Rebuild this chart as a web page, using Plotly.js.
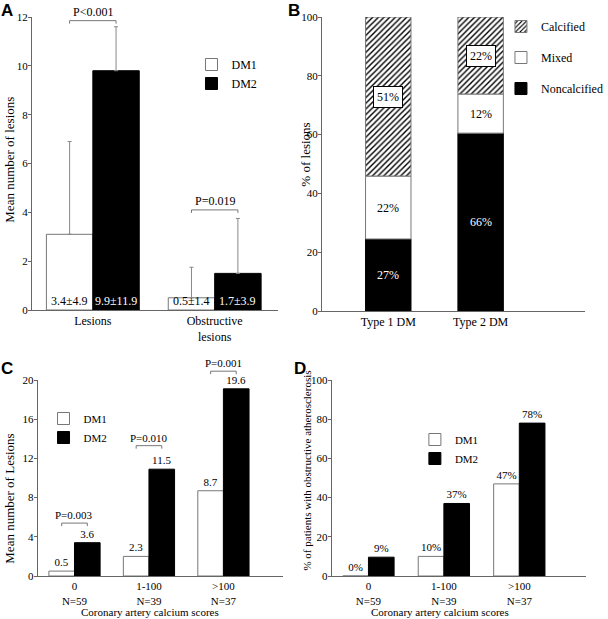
<!DOCTYPE html>
<html>
<head>
<meta charset="utf-8">
<script src="https://cdn.plot.ly/plotly-3.0.1.min.js"></script>
<style>
  html, body { margin: 0; padding: 0; background: #fff; }
  #chart { width: 608px; height: 619px; }
</style>
</head>
<body>
<div id="chart"></div>
<script>
// ---- Panel A: mean number of lesions ----
const aCats = ['Lesions', 'Obstructive<br>lesions'];
const aDM1 = [3.1, 0.5];
const aDM2 = [9.8, 1.5];
const aDM1Err = [3.8, 1.25];
const aDM2Err = [1.8, 2.25];
const aDM1Text = ['3.4±4.9', '0.5±1.4'];
const aDM2Text = ['9.9±11.9', '1.7±3.9'];
const aPValues = ['P<0.001', 'P=0.019'];

// ---- Panel B: lesion composition ----
const bCats = ['Type 1 DM', 'Type 2 DM'];
const bNoncalcified = [24.5, 60.5];
const bMixed = [21.4, 13.3];
const bCalcified = [54.1, 26.2];
const bNoncalcText = ['27%', '66%'];
const bMixedText = ['22%', '12%'];
const bCalcText = ['51%', '22%'];

// ---- Panels C & D: by coronary calcium score ----
const calcCats = ['0', '1-100', '>100'];
const calcN = ['N=59', 'N=39', 'N=37'];
const cDM1 = [0.5, 2.0, 8.7];
const cDM2 = [3.4, 10.9, 19.1];
const cDM1Text = ['0.5', '2.3', '8.7'];
const cDM2Text = ['3.6', '11.5', '19.6'];
const cPValues = ['P=0.003', 'P=0.010', 'P=0.001'];

const dDM1 = [0, 10, 47];
const dDM2 = [9.6, 37, 78];
const dDM1Text = ['0%', '10%', '47%'];
const dDM2Text = ['9%', '37%', '78%'];

// ---- styling / layout constants ----
const W = 608, H = 619;
const SERIF = '"Liberation Serif", "Times New Roman", serif';
const SANS = '"Liberation Sans", Arial, sans-serif';
const AXIS = '#666';
const font = (size, color) => ({family: SERIF, size: size, color: color || '#000'});
const idx = arr => arr.map((_, i) => i);
const whiteMarker = {color: '#fff', line: {color: '#777', width: 1}};
const blackMarker = {color: '#000', line: {color: '#000', width: 1}};

const wA = 0.381, wB = 0.492, wC = 0.344, wD = 0.34;
const bracketA = [11.85, 4.1];
const bracketC = [5.4, 13.3, 20.9];

const shapes = [];
const annotations = [];

function bracket(xa, ya, yTop, pxH, i, w, level, label, size) {
  const x0 = i - w / 2, x1 = i + w / 2;
  const yf = level / yTop;
  const tick = 3 / pxH;
  const line = {color: '#777', width: 1};
  const base = {type: 'line', xref: xa, yref: ya + ' domain', line: line};
  shapes.push(Object.assign({x0: x0, x1: x1, y0: yf, y1: yf}, base));
  shapes.push(Object.assign({x0: x0, x1: x0, y0: yf, y1: yf - tick}, base));
  shapes.push(Object.assign({x0: x1, x1: x1, y0: yf, y1: yf - tick}, base));
  annotations.push({xref: xa, yref: ya + ' domain', x: i, y: yf, xanchor: 'center', yanchor: 'bottom',
    yshift: 0, text: label, showarrow: false, font: font(size)});
}

function yAxis(dom, range, dtick, size) {
  return {domain: dom, range: range, dtick: dtick, showline: true, linecolor: AXIS, linewidth: 1,
    ticks: 'outside', ticklen: 3, tickcolor: AXIS, showgrid: false, zeroline: false,
    ticklabelstandoff: -2, tickfont: font(size), fixedrange: true};
}
function xAxis(dom, range, anchor, cats, size) {
  return {domain: dom, range: range, anchor: anchor, showline: true, linecolor: AXIS, linewidth: 1,
    ticks: '', showgrid: false, zeroline: false, tickmode: 'array', tickvals: idx(cats),
    ticktext: cats, tickfont: font(size), fixedrange: true};
}

const traces = [];

// Panel A
traces.push({type: 'bar', name: 'DM1', x: idx(aCats), y: aDM1, xaxis: 'x', yaxis: 'y',
  width: wA, offset: -wA, marker: whiteMarker, legend: 'legend',
  error_y: {type: 'data', symmetric: false, array: aDM1Err, arrayminus: aDM1Err.map(() => 0),
    color: '#888', thickness: 1, width: 2}});
traces.push({type: 'bar', name: 'DM2', x: idx(aCats), y: aDM2, xaxis: 'x', yaxis: 'y',
  width: wA, offset: 0, marker: blackMarker, legend: 'legend',
  error_y: {type: 'data', symmetric: false, array: aDM2Err, arrayminus: aDM2Err.map(() => 0),
    color: '#888', thickness: 1, width: 2}});
aCats.forEach((c, i) => {
  annotations.push({xref: 'x', yref: 'y', x: i - wA / 2, y: 0, xanchor: 'center', yanchor: 'bottom', yshift: 0,
    text: aDM1Text[i], showarrow: false, font: font(12)});
  annotations.push({xref: 'x', yref: 'y', x: i + wA / 2, y: 0, xanchor: 'center', yanchor: 'bottom', yshift: 0,
    text: aDM2Text[i], showarrow: false, font: font(12, '#fff')});
  bracket('x', 'y', 12, 293, i, wA, bracketA[i], aPValues[i], 12);
});

// Panel B (manually stacked)
const bMixBase = bNoncalcified;
const bCalcBase = bNoncalcified.map((v, i) => v + bMixed[i]);
traces.push({type: 'bar', name: 'Noncalcified', x: idx(bCats), y: bNoncalcified, xaxis: 'x2', yaxis: 'y2',
  width: wB, offset: -wB / 2, marker: blackMarker, legend: 'legend2', legendgroup: 'n', legendrank: 3});
traces.push({type: 'bar', name: 'Mixed', x: idx(bCats), y: bMixed, base: bMixBase, xaxis: 'x2', yaxis: 'y2',
  width: wB, offset: -wB / 2, marker: whiteMarker, legend: 'legend2', legendgroup: 'm', legendrank: 2});
traces.push({type: 'bar', name: 'Calcified', x: idx(bCats), y: bCalcified, base: bCalcBase, xaxis: 'x2', yaxis: 'y2',
  width: wB, offset: -wB / 2, legend: 'legend2', legendgroup: 'c', legendrank: 1,
  marker: {color: '#fff', line: {color: '#777', width: 1},
    pattern: {shape: '/', fgcolor: '#000', bgcolor: '#fff', size: 4, solidity: 0.35}}});
bCats.forEach((c, i) => {
  annotations.push({xref: 'x2', yref: 'y2', x: i, y: bNoncalcified[i] / 2, text: bNoncalcText[i],
    showarrow: false, font: font(12, '#fff')});
  annotations.push({xref: 'x2', yref: 'y2', x: i, y: bMixBase[i] + bMixed[i] / 2, text: bMixedText[i],
    showarrow: false, font: font(12)});
  annotations.push({xref: 'x2', yref: 'y2', x: i, y: bCalcBase[i] + bCalcified[i] / 2, text: bCalcText[i],
    showarrow: false, font: font(12), bgcolor: '#fff', bordercolor: '#000', borderwidth: 1, borderpad: 3});
});

// Panel C
const calcTicks = calcCats.map((c, i) => c + '<br>' + calcN[i]);
traces.push({type: 'bar', name: 'DM1', x: idx(calcCats), y: cDM1, xaxis: 'x3', yaxis: 'y3',
  width: wC, offset: -wC, marker: whiteMarker, legend: 'legend3', text: cDM1Text,
  textposition: 'outside', textfont: font(11), cliponaxis: false});
traces.push({type: 'bar', name: 'DM2', x: idx(calcCats), y: cDM2, xaxis: 'x3', yaxis: 'y3',
  width: wC, offset: 0, marker: blackMarker, legend: 'legend3', text: cDM2Text,
  textposition: 'outside', textfont: font(11), cliponaxis: false});
calcCats.forEach((c, i) => bracket('x3', 'y3', 20, 196, i, wC, bracketC[i], cPValues[i], 11));

// Panel D
traces.push({type: 'bar', name: 'DM1', x: idx(calcCats), y: dDM1, xaxis: 'x4', yaxis: 'y4',
  width: wD, offset: -wD, marker: whiteMarker, legend: 'legend4', text: dDM1Text,
  textposition: 'outside', textfont: font(11), cliponaxis: false});
traces.push({type: 'bar', name: 'DM2', x: idx(calcCats), y: dDM2, xaxis: 'x4', yaxis: 'y4',
  width: wD, offset: 0, marker: blackMarker, legend: 'legend4', text: dDM2Text,
  textposition: 'outside', textfont: font(11), cliponaxis: false});

// titles & panel letters
const px = v => v / W, py = v => (H - v) / H;
const yTitle = (x, y, text, size) => ({xref: 'paper', yref: 'paper', x: px(x), y: py(y), text: text,
  xanchor: 'center', yanchor: 'middle', textangle: -90, showarrow: false, font: font(size)});
annotations.push(yTitle(9, 160, 'Mean number of lesions', 13));
annotations.push(yTitle(315, 155, '% of lesions', 13));
annotations.push(yTitle(9, 499, 'Mean number of Lesions', 13));
annotations.push(yTitle(317, 471, '% of patients with obstructive atherosclerosis', 11));
annotations.push({xref: 'paper', yref: 'paper', x: px(155), y: py(612), xanchor: 'center', yanchor: 'middle',
  text: 'Coronary artery calcium scores', showarrow: false, font: font(11)});
annotations.push({xref: 'paper', yref: 'paper', x: px(455), y: py(612), xanchor: 'center', yanchor: 'middle',
  text: 'Coronary artery calcium scores', showarrow: false, font: font(11)});
[['A', 0, 0], ['B', 297, 0], ['C', 0, 358], ['D', 303, 358]].forEach(p => {
  annotations.push({xref: 'paper', yref: 'paper', x: px(p[1]), y: py(p[2]), xanchor: 'left', yanchor: 'top',
    text: '<b>' + p[0] + '</b>', showarrow: false, borderpad: 0,
    font: {family: SANS, size: 17, color: '#000'}});
});

const legendBase = {bgcolor: 'rgba(0,0,0,0)', font: font(12), xanchor: 'left', yanchor: 'top',
  itemwidth: 30, itemclick: false, itemdoubleclick: false};

const layout = {
  width: W, height: H,
  margin: {l: 0, r: 0, t: 0, b: 0},
  paper_bgcolor: '#fff', plot_bgcolor: '#fff',
  barmode: 'overlay',
  showlegend: true,
  font: font(12),
  xaxis: xAxis([33 / W, 287 / W], [-0.5, 1.516], 'y', aCats, 12),
  yaxis: yAxis([py(310), py(17)], [0, 12], 2, 11),
  xaxis2: xAxis([333 / W, 605 / W], [-0.717, 2.131], 'y2', bCats, 12),
  yaxis2: Object.assign(yAxis([py(311), py(17)], [0, 100], 20, 11), {anchor: 'x2'}),
  xaxis3: xAxis([39 / W, 293 / W], [-0.494, 2.805], 'y3', calcTicks, 11),
  yaxis3: Object.assign(yAxis([py(576), py(380)], [0, 20], 4, 11), {anchor: 'x3'}),
  xaxis4: xAxis([343 / W, 606 / W], [-0.487, 2.885], 'y4', calcTicks, 11),
  yaxis4: Object.assign(yAxis([py(576), py(380)], [0, 100], 20, 11), {anchor: 'x4'}),
  legend: Object.assign({x: px(198), y: py(50)}, legendBase),
  legend2: Object.assign({x: px(518), y: py(12), traceorder: 'grouped', tracegroupgap: 12}, legendBase),
  legend3: Object.assign({x: px(45), y: py(404)}, legendBase, {font: font(11)}),
  legend4: Object.assign({x: px(429), y: py(425)}, legendBase, {font: font(11)}),
  shapes: shapes,
  annotations: annotations
};

Plotly.newPlot('chart', traces, layout, {displayModeBar: false, staticPlot: true});
</script>
</body>
</html>
